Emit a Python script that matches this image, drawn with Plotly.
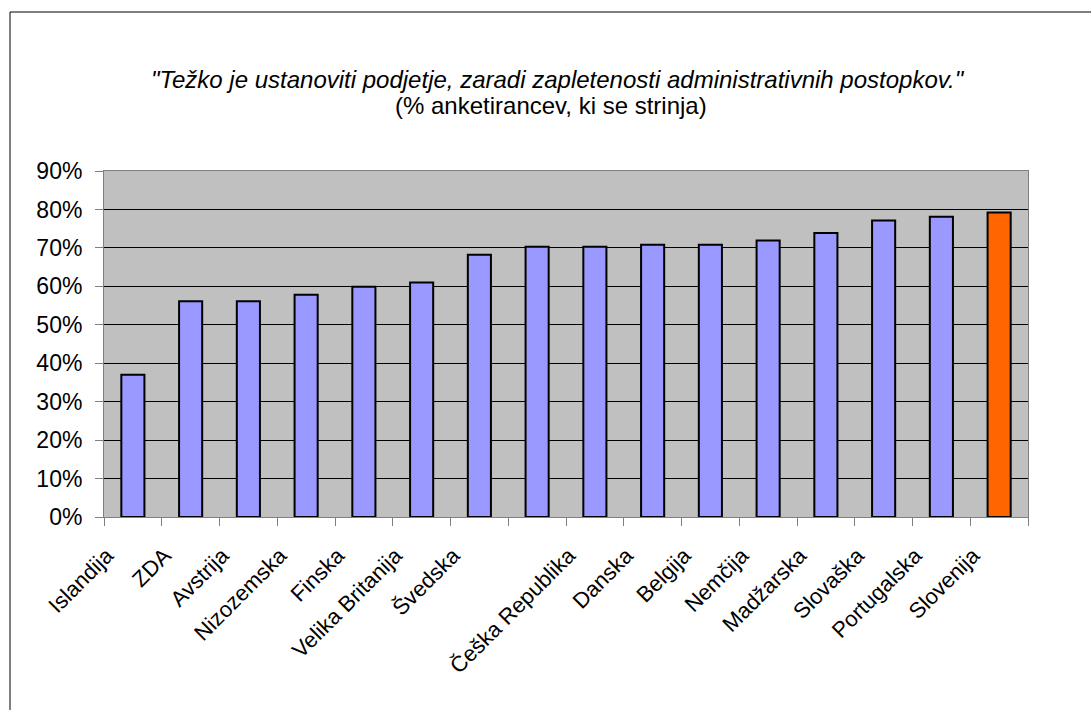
import plotly.graph_objects as go

countries = ["Islandija", "ZDA", "Avstrija", "Nizozemska", "Finska", "Velika Britanija",
             "Švedska", " ", "Češka Republika", "Danska", "Belgija", "Nemčija",
             "Madžarska", "Slovaška", "Portugalska", "Slovenija"]
values = [0.370, 0.561, 0.561, 0.578, 0.599, 0.610, 0.682, 0.703, 0.703, 0.708,
          0.708, 0.719, 0.739, 0.771, 0.781, 0.792]
highlight = "Slovenija"
y_ticks = [0, 0.1, 0.2, 0.3, 0.4, 0.5, 0.6, 0.7, 0.8, 0.9]

title_line1 = "<i>\"Težko je ustanoviti podjetje, zaradi zapletenosti administrativnih postopkov.\"</i>"
title_line2 = "(% anketirancev, ki se strinja)"

colors = ["#FF6600" if c == highlight else "#9999FF" for c in countries]

W, H = 1091, 710
L, R, T, B = 104, 1028, 171, 517

fig = go.Figure(go.Bar(
    x=countries, y=values,
    marker=dict(color=colors, line=dict(color="black", width=2)),
))

FONT = "Liberation Sans, Arial, sans-serif"

def px_x(px):
    return (px - L) / (R - L)

def px_y(py):
    return (B - py) / (B - T)

fig.update_layout(
    width=W, height=H,
    margin=dict(l=L, r=W - R, t=T, b=H - B),
    paper_bgcolor="white",
    plot_bgcolor="#C0C0C0",
    bargap=0.6,
    showlegend=False,
    font=dict(family=FONT, size=22, color="black"),
    annotations=[
        dict(text=title_line1, x=px_x(558), y=px_y(79), xref="paper", yref="paper",
             showarrow=False, font=dict(size=24), xanchor="center", yanchor="middle"),
        dict(text=title_line2, x=px_x(551), y=px_y(106), xref="paper", yref="paper",
             showarrow=False, font=dict(size=24), xanchor="center", yanchor="middle"),
    ],
    shapes=[
        dict(type="rect", xref="paper", yref="paper",
             x0=px_x(10), x1=px_x(1100), y0=px_y(720), y1=px_y(12),
             line=dict(color="black", width=1), fillcolor="rgba(0,0,0,0)", layer="below"),
    ],
)

fig.update_xaxes(
    type="category",
    tickangle=-45,
    ticks="outside", ticklen=8, tickcolor="#808080", tickson="boundaries",
    showline=True, linecolor="#808080", linewidth=1, mirror=True,
    showgrid=False,
    tickfont=dict(size=22),
    ticklabelshift=-26,
    ticklabelstandoff=16,
)
fig.update_yaxes(
    range=[0, 0.9],
    tickvals=y_ticks, tickformat=".0%",
    ticks="outside", ticklen=8, tickcolor="#808080",
    showline=True, linecolor="#808080", linewidth=1, mirror=True,
    showgrid=True, gridcolor="black", gridwidth=1,
    zeroline=False,
    tickfont=dict(size=23),
    ticklabelstandoff=8,
)

fig.write_html("out.html")
